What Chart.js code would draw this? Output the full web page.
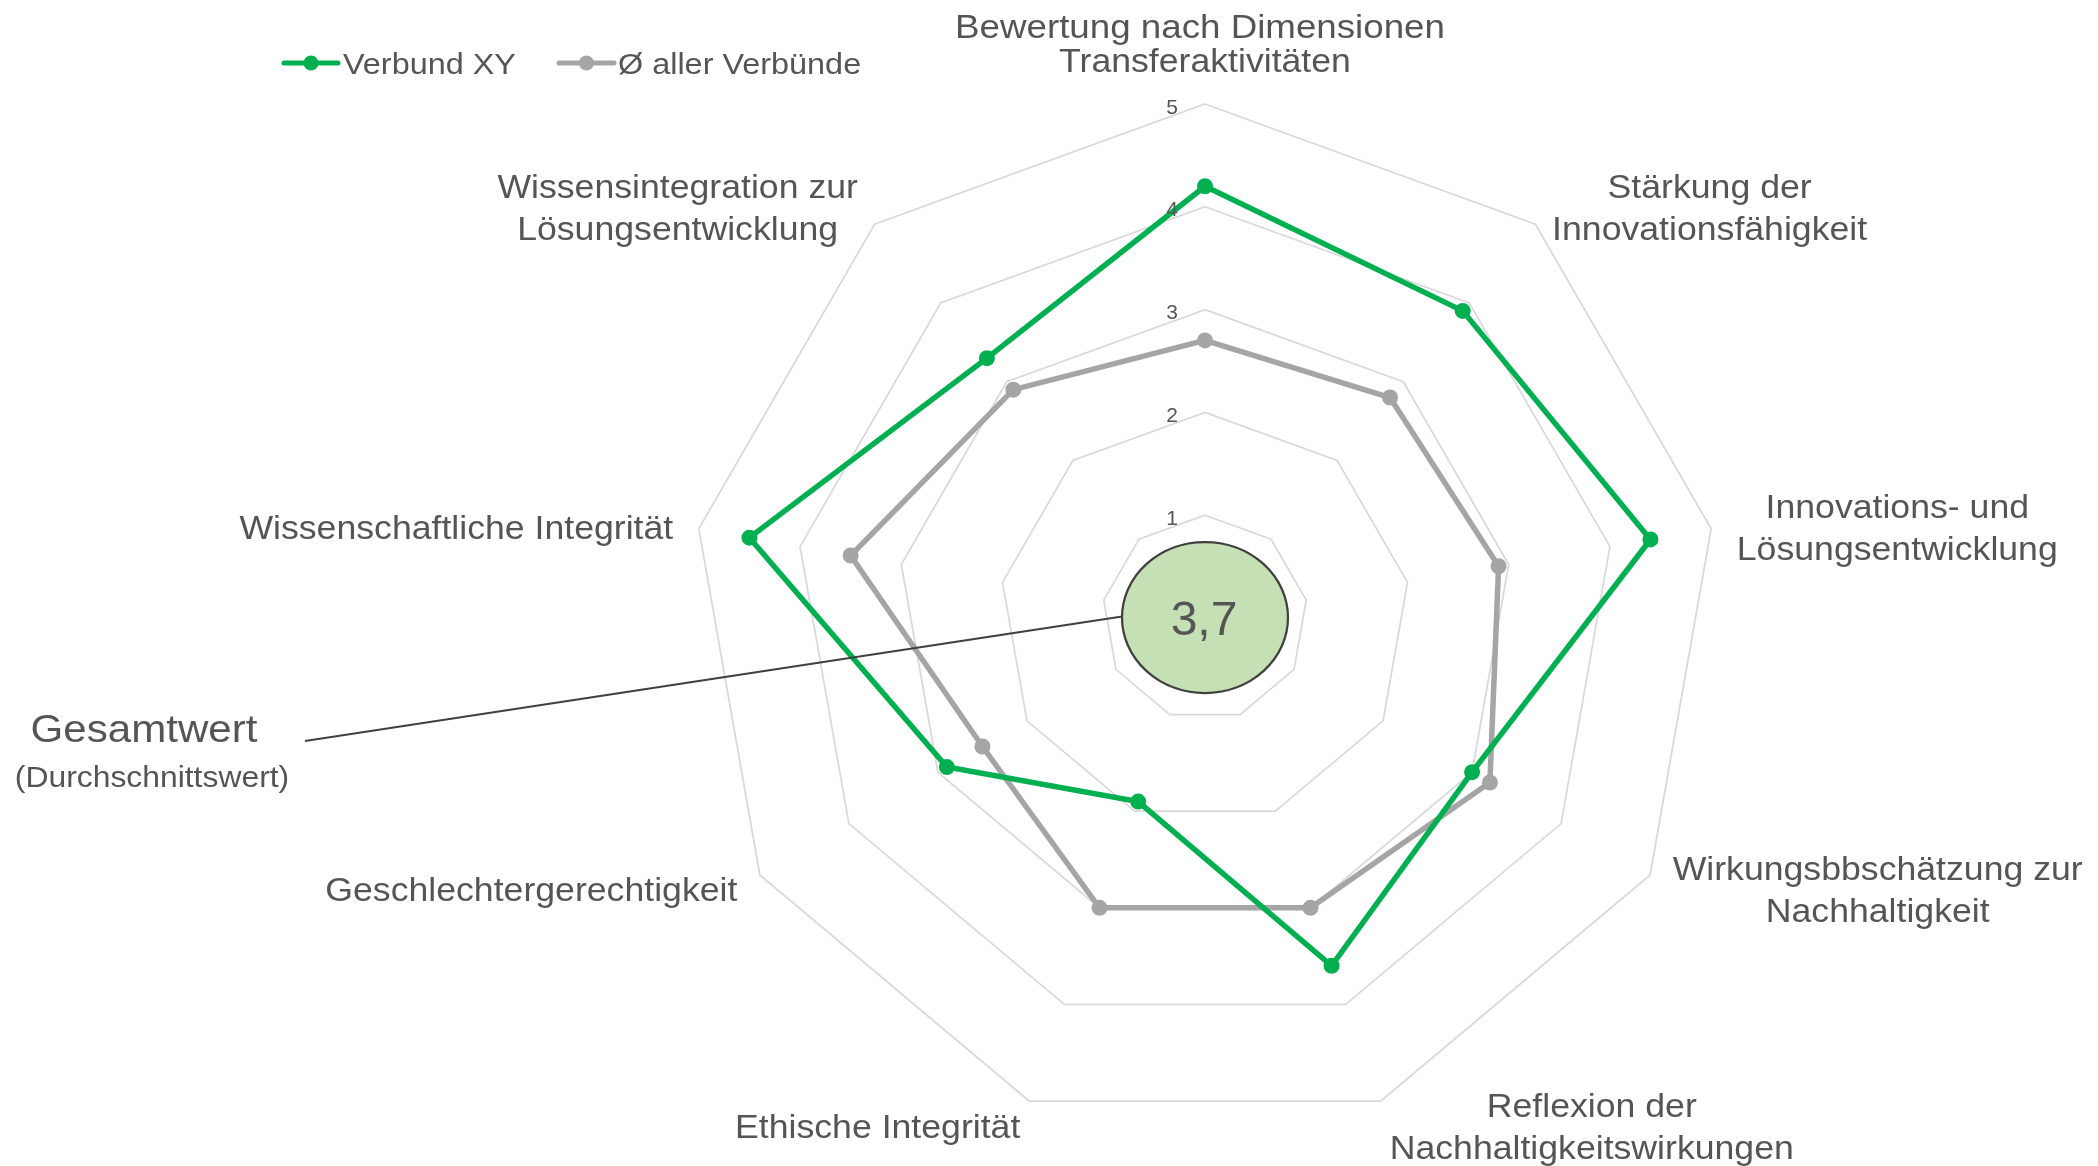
<!DOCTYPE html>
<html><head><meta charset="utf-8">
<script src="https://cdn.jsdelivr.net/npm/chart.js@4/dist/chart.umd.min.js"></script>
<style>html,body{margin:0;padding:0;background:#fff;overflow:hidden}</style>
</head><body>
<canvas id="c" width="2098" height="1166"></canvas>
<script>
// ---- data ----
const categories = [
  ['Transferaktivitäten'],
  ['Stärkung der', 'Innovationsfähigkeit'],
  ['Innovations- und', 'Lösungsentwicklung'],
  ['Wirkungsbbschätzung zur', 'Nachhaltigkeit'],
  ['Reflexion der', 'Nachhaltigkeitswirkungen'],
  ['Ethische Integrität'],
  ['Geschlechtergerechtigkeit'],
  ['Wissenschaftliche Integrität'],
  ['Wissensintegration zur', 'Lösungsentwicklung']
];
const verbundXY = [4.2, 3.9, 4.4, 3.0, 3.6, 1.9, 2.9, 4.5, 3.3];
const avgAll    = [2.7, 2.8, 2.9, 3.2, 3.0, 3.0, 2.5, 3.5, 2.9];
const tickValues = [1, 2, 3, 4, 5];
const seriesNames = ['Verbund XY', 'Ø aller Verbünde'];
const chartTitle = 'Bewertung nach Dimensionen';
const totalLabel = 'Gesamtwert';
const totalSub = '(Durchschnittswert)';
const totalValue = '3,7';

// ---- styles ----
const GREEN = '#00b050', GRAY = '#a5a5a5', TXT = '#555555';
const FONT = '"Liberation Sans", Arial, sans-serif';
const SX = 1.08;

function txt(ctx, s, x, y, size, align, sx, color) {
  ctx.save();
  ctx.font = size + 'px ' + FONT;
  ctx.fillStyle = color || TXT;
  ctx.textBaseline = 'alphabetic';
  ctx.textAlign = 'left';
  const w = ctx.measureText(s).width * sx;
  const x0 = align === 'center' ? x - w / 2 : (align === 'right' ? x - w : x);
  ctx.translate(x0, y);
  ctx.scale(sx, 1);
  ctx.fillText(s, 0, 0);
  ctx.restore();
  return w;
}
function measure(ctx, s, size, sx) {
  ctx.save(); ctx.font = size + 'px ' + FONT;
  const w = ctx.measureText(s).width * sx; ctx.restore(); return w;
}

const overlay = {
  id: 'overlay',
  afterDraw(chart) {
    const ctx = chart.ctx;
    const sc = chart.scales.r;
    const cx = sc.xCenter, cy = sc.yCenter, R = sc.drawingArea;

    // title
    txt(ctx, chartTitle, cx - 5, 38, 34, 'center', SX);

    // point labels
    const LS = 33, LH = 41.5, cap = LS * 0.716;
    categories.forEach((lines, i) => {
      const p = sc.getPointPosition(i, R + 26);
      const c = Math.cos(p.angle), s = Math.sin(p.angle);
      const bw = Math.max(...lines.map(l => measure(ctx, l, LS, SX)));
      const n = lines.length;
      let midX, midY;
      if (Math.abs(c) < 0.05) {
        midX = p.x;
        midY = s < 0 ? (p.y + 3) - n * LH / 2 : p.y + n * LH / 2;
      } else {
        midX = c > 0 ? p.x + bw / 2 : p.x - bw / 2;
        midY = p.y + (s < 0 ? 3 : 1);
      }
      lines.forEach((l, k) => {
        const ly = midY + (k - (n - 1) / 2) * LH + cap / 2;
        txt(ctx, l, midX, ly, LS, 'center', SX);
      });
    });

    // tick labels
    tickValues.forEach(v => {
      const d = sc.getDistanceFromCenterForValue(v);
      txt(ctx, String(v), cx - 27, cy - d + 2 + 21 * 0.358, 21, 'right', 1);
    });

    // legend
    const ly = 63;
    [[seriesNames[0], GREEN, 284, 338, 343], [seriesNames[1], GRAY, 559, 614, 618]].forEach(([name, col, x1, x2, tx]) => {
      ctx.save();
      ctx.strokeStyle = col; ctx.lineWidth = 5; ctx.lineCap = 'round';
      ctx.beginPath(); ctx.moveTo(x1, ly); ctx.lineTo(x2, ly); ctx.stroke();
      ctx.fillStyle = col; ctx.beginPath(); ctx.arc((x1 + x2) / 2, ly, 7.5, 0, Math.PI * 2); ctx.fill();
      ctx.restore();
      txt(ctx, name, tx, ly + 30 * 0.358, 30, 'left', SX);
    });

    // annotation line
    const ex = cx, ey = cy - 0.5, rx = 83, ry = 75.5;
    ctx.save();
    ctx.strokeStyle = '#404040'; ctx.lineWidth = 2;
    ctx.beginPath(); ctx.moveTo(305, 741); ctx.lineTo(ex - rx, ey - 1); ctx.stroke();
    // ellipse
    ctx.fillStyle = '#c5e0b4'; ctx.lineWidth = 2.25;
    ctx.beginPath(); ctx.ellipse(ex, ey, rx, ry, 0, 0, Math.PI * 2); ctx.fill(); ctx.stroke();
    ctx.restore();
    txt(ctx, totalValue, ex - 1, ey + 48 * 0.358, 48, 'center', 1);

    // Gesamtwert labels
    txt(ctx, totalLabel, 144, 742, 39, 'center', SX);
    txt(ctx, totalSub, 152, 787, 29.5, 'center', SX);
  }
};

new Chart(document.getElementById('c').getContext('2d'), {
  type: 'radar',
  data: {
    labels: categories,
    datasets: [
      { label: seriesNames[0], data: verbundXY, borderColor: GREEN, backgroundColor: GREEN,
        borderWidth: 5.5, pointRadius: 7, pointBorderWidth: 2, pointBackgroundColor: GREEN,
        pointBorderColor: GREEN, fill: false },
      { label: seriesNames[1], data: avgAll, borderColor: GRAY, backgroundColor: GRAY,
        borderWidth: 5.5, pointRadius: 7, pointBorderWidth: 2, pointBackgroundColor: GRAY,
        pointBorderColor: GRAY, fill: false }
    ]
  },
  options: {
    responsive: false, animation: false, devicePixelRatio: 1,
    layout: { padding: { left: 312, right: 0, top: 104, bottom: 34 } },
    plugins: { legend: { display: false }, title: { display: false }, tooltip: { enabled: false } },
    scales: {
      r: {
        min: 0, max: 5,
        ticks: { display: false, stepSize: 1 },
        pointLabels: { display: false },
        angleLines: { display: false },
        grid: { color: '#d9d9d9', lineWidth: 1.75 }
      }
    }
  },
  plugins: [overlay]
});
</script>
</body></html>
